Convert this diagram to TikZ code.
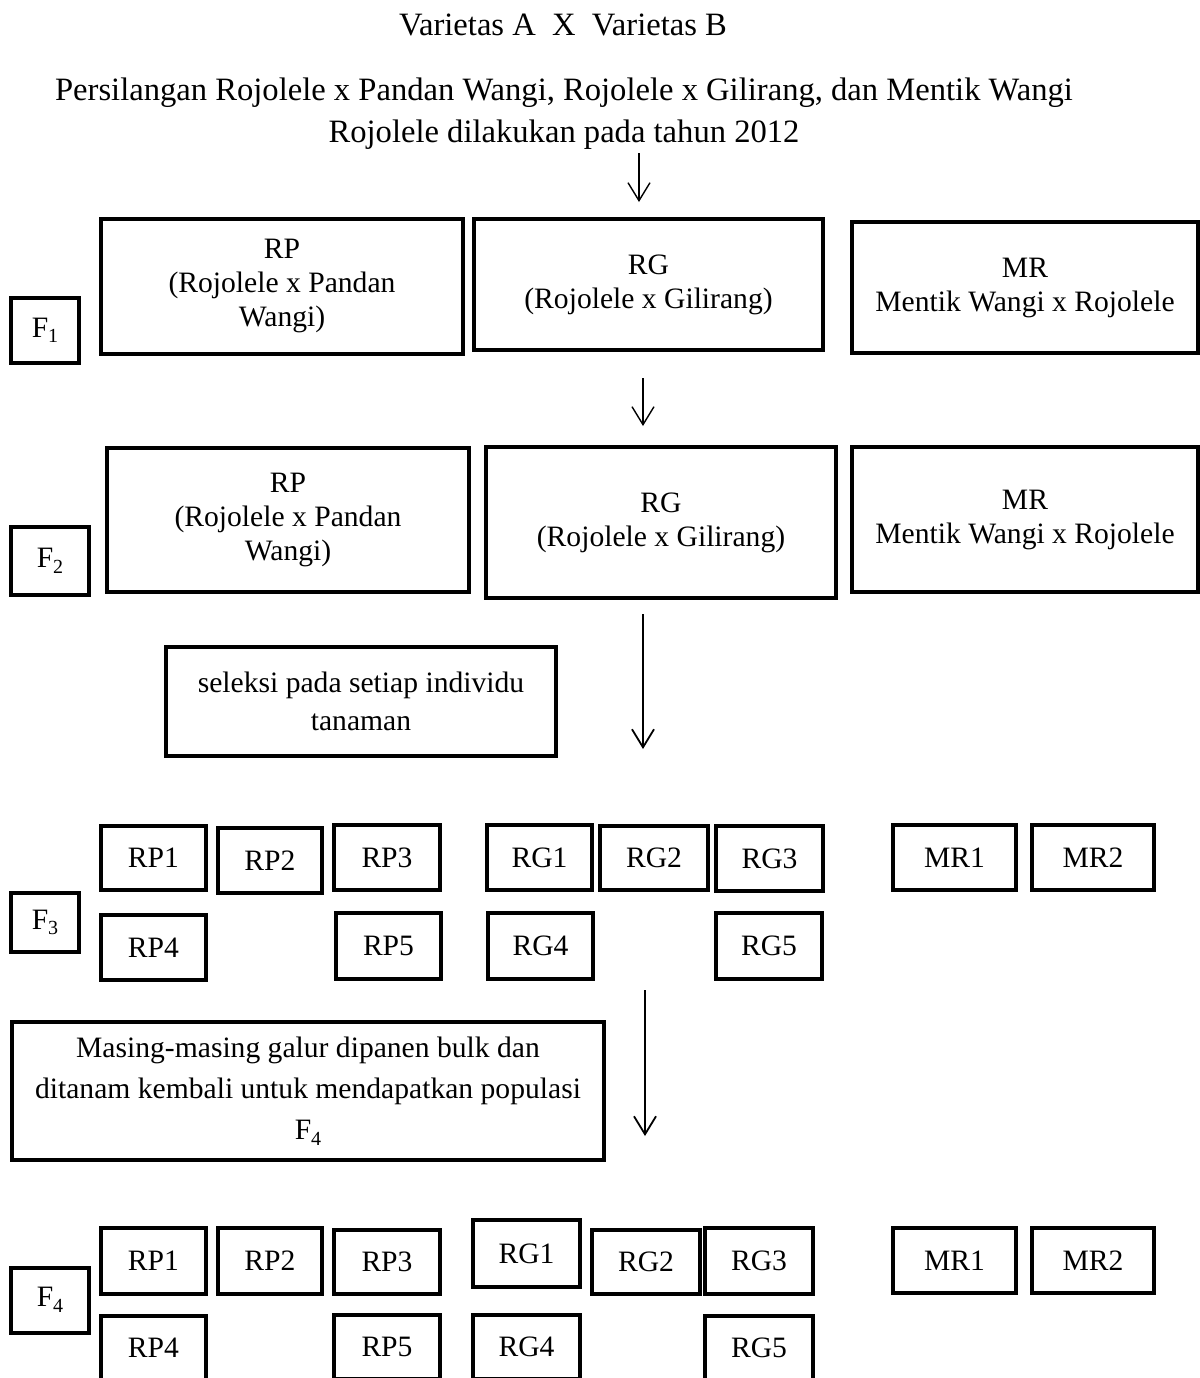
\documentclass[tikz,border=0pt]{standalone}
\usepackage{fontspec}
\setmainfont{Liberation Serif}
\usetikzlibrary{positioning, arrows.meta}

\newcommand{\gensub}[1]{F\raisebox{-0.4ex}{\fontsize{10}{10}\selectfont #1}}

\begin{document}
\begin{tikzpicture}[
    x=0.5pt, y=-0.5pt,
    font=\fontsize{14.8}{17}\selectfont,
    box/.style={rectangle, draw=black, line width=2pt, align=center, inner sep=2pt},
    gen/.style={box},
    plain/.style={align=center, inner sep=0pt, font=\fontsize{16.3}{21}\selectfont},
    arrow/.style={-{Straight Barb[length=9pt, width=11pt]}, line width=0.9pt}
]
\useasboundingbox (0,0) rectangle (1200,1378);

% --- Judul ---
\node[plain] (judul) at (563,25) {Varietas A\ \ X\ \ Varietas B};
\node[plain] (silang) at (564,114)
    {Persilangan Rojolele x Pandan Wangi, Rojolele x Gilirang, dan Mentik Wangi\\
     Rojolele dilakukan pada tahun 2012};

% --- F1 ---
\node[gen, minimum width=34pt, minimum height=32.5pt] (f1) at (45,330.5) {\gensub{1}};
\node[box, minimum width=181pt, minimum height=67.5pt] (rpA) at (282,286) {RP\\(Rojolele x Pandan\\Wangi)};
\node[box, minimum width=174.5pt, minimum height=65.5pt] (rgA) at (648.5,284.5) {RG\\(Rojolele x Gilirang)};
\node[box, minimum width=173pt, minimum height=65.5pt] (mrA) at (1025,287.5) {MR\\Mentik Wangi x Rojolele};

% --- F2 ---
\node[gen, minimum width=39pt, minimum height=34pt] (f2) at (50,561) {\gensub{2}};
\node[box, minimum width=181pt, minimum height=72pt] (rpB) at (288,520) {RP\\(Rojolele x Pandan\\Wangi)};
\node[box, minimum width=175pt, minimum height=75.5pt] (rgB) at (661,522.5) {RG\\(Rojolele x Gilirang)};
\node[box, minimum width=173pt, minimum height=72.5pt] (mrB) at (1025,519.5) {MR\\Mentik Wangi x Rojolele};

\node[box, minimum width=195pt, minimum height=54.5pt, font=\fontsize{14.8}{19}\selectfont] (seleksi) at (361,701.5)
    {seleksi pada setiap individu\\tanaman};

% --- F3 ---
\node[gen, minimum width=34pt, minimum height=29.5pt] (f3) at (45,922.5) {\gensub{3}};
\node[box, minimum width=52.5pt, minimum height=32pt] (rp1a) at (153.5,858) {RP1};
\node[box, minimum width=52pt, minimum height=32.5pt] (rp2a) at (270,860.5) {RP2};
\node[box, minimum width=53pt, minimum height=32.5pt] (rp3a) at (387,857.5) {RP3};
\node[box, minimum width=52.5pt, minimum height=32.5pt] (rg1a) at (539.5,857.5) {RG1};
\node[box, minimum width=54pt, minimum height=32pt] (rg2a) at (654,858) {RG2};
\node[box, minimum width=53.5pt, minimum height=32.5pt] (rg3a) at (769.5,858.5) {RG3};
\node[box, minimum width=61.5pt, minimum height=32.5pt] (mr1a) at (954.5,857.5) {MR1};
\node[box, minimum width=61pt, minimum height=32.5pt] (mr2a) at (1093,857.5) {MR2};
\node[box, minimum width=52.5pt, minimum height=32.5pt] (rp4a) at (153.5,947.5) {RP4};
\node[box, minimum width=52.5pt, minimum height=33pt] (rp5a) at (388.5,946) {RP5};
\node[box, minimum width=52.5pt, minimum height=33pt] (rg4a) at (540.5,946) {RG4};
\node[box, minimum width=53pt, minimum height=33pt] (rg5a) at (769,946) {RG5};

\node[box, minimum width=296pt, minimum height=69pt, font=\fontsize{14.8}{20.5}\selectfont] (masing) at (308,1091)
    {Masing-masing galur dipanen bulk dan\\ditanam kembali untuk mendapatkan populasi\\\gensub{4}};

% --- F4 ---
\node[gen, minimum width=39pt, minimum height=32.5pt] (f4) at (50,1300) {\gensub{4}};
\node[box, minimum width=52.5pt, minimum height=33pt] (rp1b) at (153.5,1261) {RP1};
\node[box, minimum width=52pt, minimum height=33pt] (rp2b) at (270,1261) {RP2};
\node[box, minimum width=53pt, minimum height=32pt] (rp3b) at (387,1262) {RP3};
\node[box, minimum width=53.5pt, minimum height=33.5pt] (rg1b) at (526.5,1253.5) {RG1};
\node[box, minimum width=54pt, minimum height=32pt] (rg2b) at (646,1262) {RG2};
\node[box, minimum width=54pt, minimum height=33pt] (rg3b) at (759,1261) {RG3};
\node[box, minimum width=61.5pt, minimum height=32.5pt] (mr1b) at (954.5,1260.5) {MR1};
\node[box, minimum width=61pt, minimum height=32.5pt] (mr2b) at (1093,1260.5) {MR2};
\node[box, minimum width=52.5pt, minimum height=32pt] (rp4b) at (153.5,1348) {RP4};
\node[box, minimum width=53pt, minimum height=32pt] (rp5b) at (387,1347) {RP5};
\node[box, minimum width=53.5pt, minimum height=32pt] (rg4b) at (526.5,1347) {RG4};
\node[box, minimum width=54pt, minimum height=32pt] (rg5b) at (759,1348) {RG5};

% --- Panah ---
\coordinate (a1s) at (639,153);
\coordinate (a1e) at (639,202);
\coordinate (a2s) at (643,378);
\coordinate (a2e) at (643,426);
\coordinate (a3s) at (643,614);
\coordinate (a3e) at (643,749);
\coordinate (a4s) at (645,990);
\coordinate (a4e) at (645,1136);

\draw[arrow, line width=0.7pt] (a1s) -- (a1e);
\draw[arrow, line width=0.7pt] (a2s) -- (a2e);
\draw[arrow] (a3s) -- (a3e);
\draw[arrow] (a4s) -- (a4e);

\end{tikzpicture}
\end{document}
